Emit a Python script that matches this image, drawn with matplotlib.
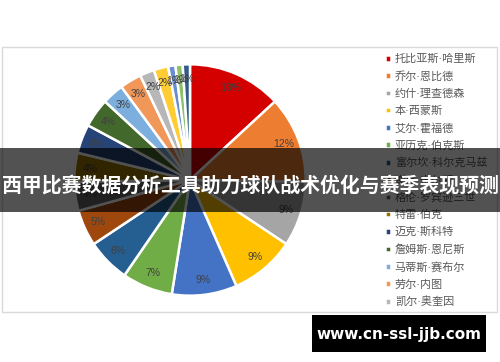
import matplotlib.pyplot as plt
from matplotlib.patches import Rectangle

# player share of team stat (percent)
players = ["托比亚斯·哈里斯", "乔尔·恩比德", "约什·理查德森", "本·西蒙斯", "艾尔·霍福德",
           "亚历克·伯克斯", "富尔坎·科尔克马兹", "谢克·米尔顿", "格伦·罗宾逊三世", "特雷·伯克",
           "迈克·斯科特", "詹姆斯·恩尼斯", "马蒂斯·赛布尔", "劳尔·内图", "凯尔·奥奎因",
           "扎伊尔·史密斯", "诺维尔·佩勒", "马里亚尔·沙约克", "其他"]
shares = [13, 12, 9, 9, 9, 7, 6, 5, 4, 4, 4, 4, 3, 3, 2, 2, 1, 1, 1]
colors = ["#D40000", "#ED7D31", "#A5A5A5", "#FFC000", "#4472C4", "#70AD47",
          "#255E91", "#9E480E", "#636363", "#997300", "#264478", "#43682B",
          "#7CAFDD", "#F1975A", "#B7B7B7", "#FFCD33", "#698ED0", "#8CC168", "#335B8A"]
n_legend = 15
title = "西甲比赛数据分析工具助力球队战术优化与赛季表现预测"
watermark = "www.cn-ssl-jjb.com"

W, H = 500, 362
fig = plt.figure(figsize=(W / 100, H / 100), dpi=100)
fig.patch.set_facecolor("white")

def fx(px):
    return px / W

def fy(py):
    return 1 - py / H

# chart frame
fig.patches.append(Rectangle((fx(2), fy(312)), fx(495), (312 - 47) / H,
                             transform=fig.transFigure, fill=False,
                             edgecolor="#D9D9D9", linewidth=1))

cx, cy, r = 190, 180, 118
ax = fig.add_axes([fx(cx - r), fy(cy + r), 2 * r / W, 2 * r / H])
wedges, texts, autotexts = ax.pie(
    shares, colors=colors, startangle=90, counterclock=False,
    autopct="%1.0f%%", pctdistance=0.87,
    wedgeprops=dict(edgecolor="white", linewidth=1.8),
    textprops=dict(color="#404040", fontsize=7.5, family="Liberation Sans"))
ax.set_xlim(-1.02, 1.02)
ax.set_ylim(-1.02, 1.02)
ax.set_aspect("equal")

leg = fig.legend(wedges[:n_legend], players[:n_legend], loc="upper left",
                 bbox_to_anchor=(fx(377), fy(46)), frameon=False,
                 prop=dict(family=["DejaVu Sans", "Noto Sans CJK SC"], size=8),
                 handlelength=0.55, handleheight=0.55, handletextpad=0.35,
                 labelspacing=0.62, borderaxespad=0.3)
for t in leg.get_texts():
    t.set_color("#595959")

# banner across the middle
fig.patches.append(Rectangle((0, fy(212)), 1, 64 / H, transform=fig.transFigure,
                             facecolor="black", alpha=0.68, edgecolor="none", zorder=10))
fig.text(0.5, fy(185), title, ha="center", va="center", color="white", zorder=11,
         fontsize=14.3, fontweight="bold", family=["Noto Sans CJK SC", "DejaVu Sans"])

# watermark
fig.patches.append(Rectangle((fx(312), fy(352)), fx(174), 37 / H, zorder=10,
                             transform=fig.transFigure, facecolor="black", edgecolor="none"))
fig.text(fx(399), fy(334), watermark, ha="center", va="center", color="white", zorder=11,
         fontsize=11, fontweight="bold", family="DejaVu Sans")

fig.savefig("out.png", dpi=100)
